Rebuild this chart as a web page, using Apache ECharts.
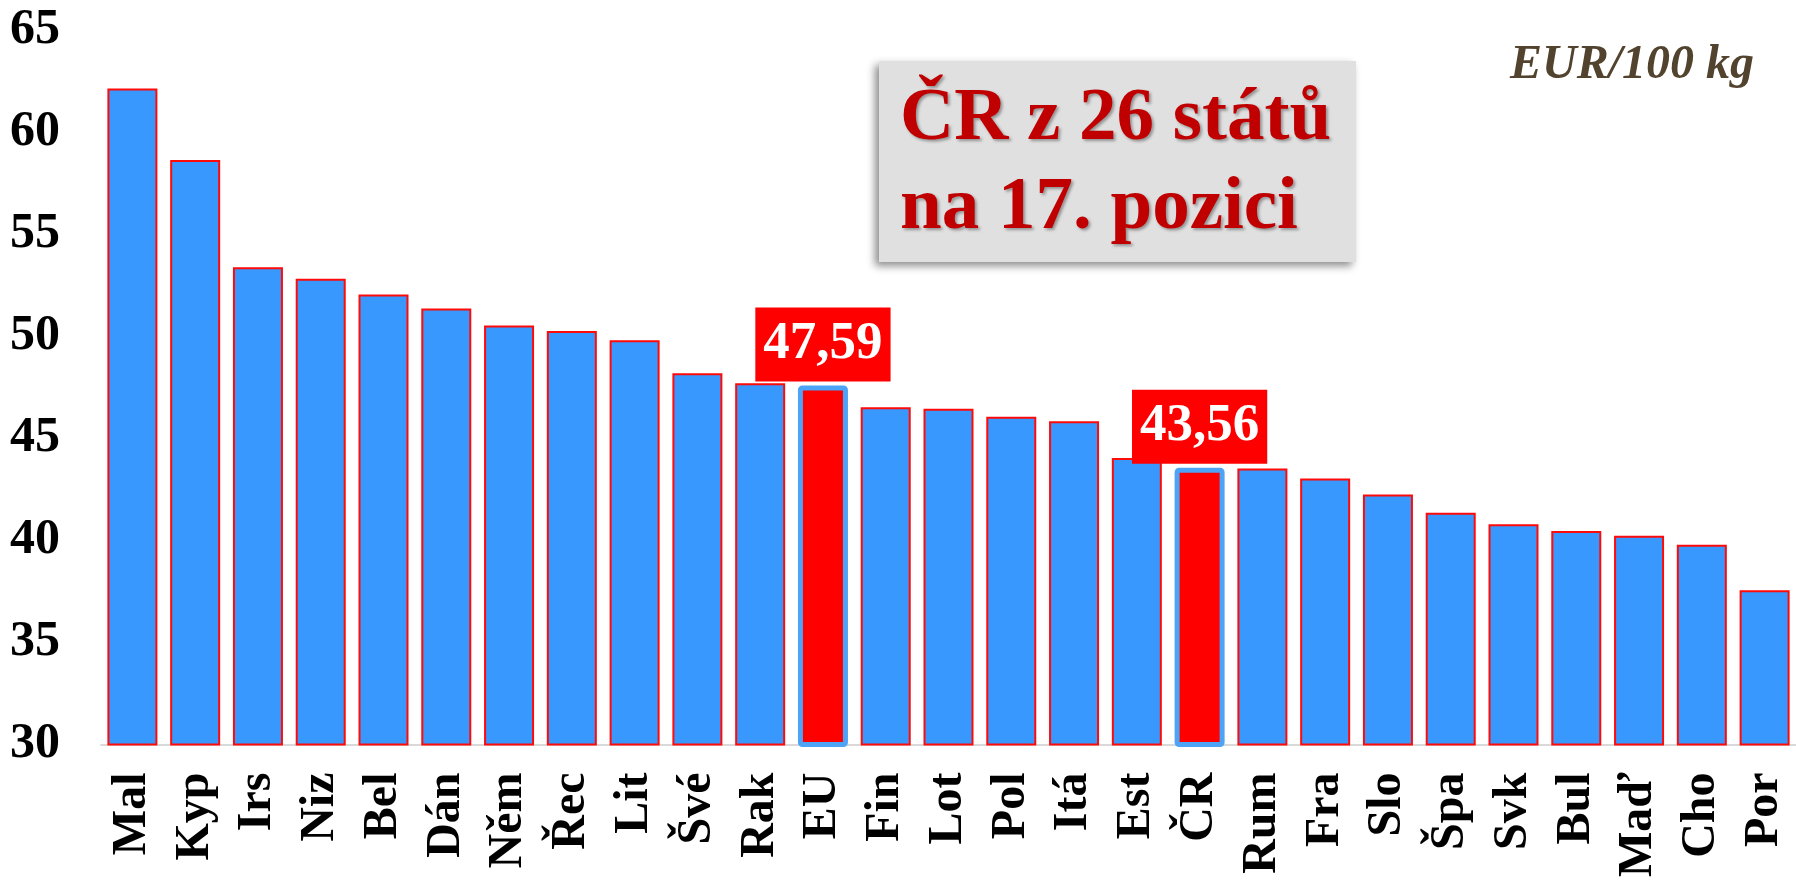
<!DOCTYPE html>
<html>
<head>
<meta charset="utf-8">
<title>Cena – srovnání EU</title>
<script src="https://cdn.jsdelivr.net/npm/echarts@6/dist/echarts.min.js"></script>
<style>
  html, body { margin: 0; padding: 0; background: #fff; }
  #chart { width: 1796px; height: 880px; }
</style>
</head>
<body>
<div id="chart"></div>
<script>
// staty seřazené podle ceny
const staty = ['Mal', 'Kyp', 'Irs', 'Niz', 'Bel', 'Dán', 'Něm', 'Řec', 'Lit', 'Švé', 'Rak', 'EU', 'Fin',
  'Lot', 'Pol', 'Itá', 'Est', 'ČR', 'Rum', 'Fra', 'Slo', 'Špa', 'Svk', 'Bul', 'Maď', 'Cho', 'Por']
const ceny = [62.13, 58.63, 53.38, 52.82, 52.04, 51.36, 50.53, 50.25, 49.80, 48.18, 47.69, 47.59, 46.52,
  46.45, 46.05, 45.83, 44.04, 43.56, 43.52, 43.03, 42.25, 41.35, 40.79, 40.46, 40.23, 39.79, 37.55]
const zvyraznene = ['EU', 'ČR']
const osaMin = 30
const osaMax = 65
const osaKrok = 5

const pismo = '"Liberation Serif", "Times New Roman", serif'

function carka(v){
    return v.toFixed(2).replace('.', ',')
}

const data = staty.map(function(s, i){
    if(zvyraznene.indexOf(s) < 0)
        return ceny[i]
    return {
        value: ceny[i],
        itemStyle: { color: '#FF0000', borderColor: '#4DA3F5', borderWidth: 5, borderRadius: 2 },
        label: {
            show: true,
            position: 'top',
            distance: 4,
            formatter: function(p){ return carka(p.value) },
            backgroundColor: '#FF0000',
            color: '#fff',
            fontFamily: pismo,
            fontWeight: 'bold',
            fontSize: 53,
            lineHeight: 53,
            padding: [10, 8, 11, 8]
        }
    }
})

const charts = echarts.init(document.getElementById('chart'))
charts.setOption({
    animation: false,
    backgroundColor: '#fff',
    grid: { left: 101, top: 30, width: 1700, bottom: 132 },
    xAxis: {
        type: 'category',
        data: staty,
        axisLine: { lineStyle: { color: '#D9D9D9', width: 2 } },
        axisTick: { show: false },
        axisLabel: {
            rotate: 90,
            margin: 28,
            interval: 0,
            color: '#000',
            fontFamily: pismo,
            fontWeight: 'bold',
            fontSize: 48
        }
    },
    yAxis: {
        type: 'value',
        min: osaMin,
        max: osaMax,
        interval: osaKrok,
        splitLine: { show: false },
        axisLine: { show: false },
        axisTick: { show: false },
        axisLabel: {
            margin: 41,
            color: '#000',
            fontFamily: pismo,
            fontWeight: 'bold',
            fontSize: 50
        }
    },
    series: [{
        type: 'bar',
        data: data,
        barWidth: 50,
        itemStyle: { color: '#3898FD', borderColor: '#FF0A0A', borderWidth: 2 }
    }],
    graphic: [
        {
            type: 'group',
            left: 879,
            top: 61,
            children: [
                {
                    type: 'rect',
                    shape: { x: 0, y: 0, width: 477, height: 201 },
                    style: {
                        fill: '#E0E0E0',
                        shadowBlur: 8,
                        shadowColor: 'rgba(0,0,0,0.45)',
                        shadowOffsetX: -4,
                        shadowOffsetY: 4
                    }
                },
                {
                    type: 'text',
                    x: 21,
                    y: 14,
                    style: {
                        text: 'ČR z 26 států\nna 17. pozici',
                        font: 'bold 75px ' + pismo,
                        fill: '#C00000',
                        lineHeight: 89,
                        textShadowColor: 'rgba(0,0,0,0.35)',
                        textShadowBlur: 3,
                        textShadowOffsetX: 2,
                        textShadowOffsetY: 2
                    }
                }
            ]
        },
        {
            type: 'text',
            x: 1510,
            y: 66,
            style: {
                text: 'EUR/100 kg',
                font: 'italic bold 48px ' + pismo,
                fill: '#52432F',
                verticalAlign: 'middle'
            }
        }
    ]
})
</script>
</body>
</html>
